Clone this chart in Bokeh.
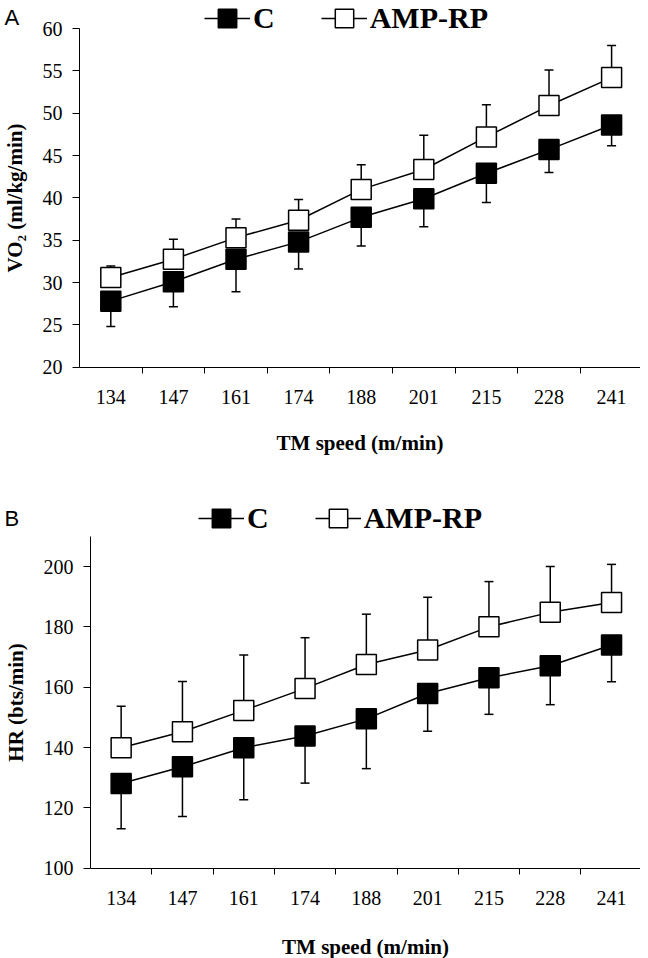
from bokeh.plotting import figure
from bokeh.models import Range1d, FixedTicker, Legend, LegendItem, Label
from bokeh.layouts import column
from bokeh.embed import file_html
from bokeh.resources import INLINE

# ---------------- data ----------------
speeds = ["134", "147", "161", "174", "188", "201", "215", "228", "241"]

vo2_c = [27.8, 30.1, 32.75, 34.8, 37.7, 39.9, 42.9, 45.7, 48.6]
vo2_c_low = [24.8, 27.15, 28.9, 31.6, 34.3, 36.6, 39.45, 43.0, 46.15]
vo2_amp = [30.6, 32.75, 35.3, 37.35, 41.0, 43.35, 47.2, 50.9, 54.2]
vo2_amp_high = [31.95, 35.1, 37.5, 39.8, 43.9, 47.4, 51.0, 55.1, 58.0]

hr_c = [128.1, 133.6, 139.9, 143.8, 149.5, 157.9, 163.1, 167.1, 174.0]
hr_c_low = [113.1, 117.1, 122.7, 128.2, 133.0, 145.4, 151.0, 154.2, 161.8]
hr_amp = [139.9, 145.2, 152.3, 159.6, 167.5, 172.3, 180.0, 184.8, 188.1]
hr_amp_high = [153.7, 161.9, 170.7, 176.4, 184.2, 189.8, 195.0, 200.0, 200.7]

vo2_ticks = [20, 25, 30, 35, 40, 45, 50, 55, 60]
hr_ticks = [100, 120, 140, 160, 180, 200]

SERIF = "Liberation Serif"
SANS = "Liberation Sans"
W = 640


def make_panel(c, c_low, amp, amp_high, ybounds, yticks, ylabel, letter,
               height, axis_x, cat_w, y_at_top, px_per_unit, leg_x, leg_cy, letter_cy,
               title_standoff):
    n = len(speeds)
    xs = [i + 0.5 for i in range(n)]
    x0 = -axis_x / cat_w
    x1 = (W - axis_x) / cat_w
    y1 = ybounds[1] + y_at_top / px_per_unit
    y0 = y1 - height / px_per_unit
    p = figure(width=W, height=height, output_backend="svg", toolbar_location=None,
               x_range=Range1d(x0, x1), y_range=Range1d(y0, y1),
               min_border=0, min_border_left=0, min_border_right=0,
               min_border_top=0, min_border_bottom=0)
    p.outline_line_color = None
    p.xgrid.visible = False
    p.ygrid.visible = False
    p.background_fill_color = "white"

    # x axis: labels at category centres, ticks at category boundaries
    xa = p.xaxis[0]
    xa.fixed_location = ybounds[0]
    xa.bounds = (0, n)
    xa.ticker = FixedTicker(ticks=xs, minor_ticks=list(range(1, n)))
    xa.major_label_overrides = {x: s for x, s in zip(xs, speeds)}
    xa.major_tick_line_color = None
    xa.major_tick_in = 0
    xa.major_tick_out = 6
    xa.minor_tick_in = 0
    xa.minor_tick_out = 6
    xa.minor_tick_line_color = "black"
    xa.axis_line_color = "black"
    xa.major_label_text_font = SERIF
    xa.major_label_text_font_size = "20px"
    xa.major_label_text_color = "black"
    xa.major_label_standoff = 17
    xa.axis_label = "TM speed (m/min)"
    xa.axis_label_text_font = SERIF
    xa.axis_label_text_font_style = "bold"
    xa.axis_label_text_font_size = "21px"
    xa.axis_label_text_color = "black"
    xa.axis_label_standoff = title_standoff

    ya = p.yaxis[0]
    ya.fixed_location = 0
    ya.bounds = ybounds
    ya.ticker = FixedTicker(ticks=yticks)
    ya.major_tick_in = 0
    ya.major_tick_out = 7
    ya.minor_tick_line_color = None
    ya.axis_line_color = "black"
    ya.major_label_text_font = SERIF
    ya.major_label_text_font_size = "20px"
    ya.major_label_text_color = "black"
    ya.major_label_standoff = 10
    ya.axis_label = ylabel
    ya.axis_label_text_font = SERIF
    ya.axis_label_text_font_style = "bold"
    ya.axis_label_text_font_size = "21px"
    ya.axis_label_text_color = "black"
    ya.axis_label_standoff = 13

    # one-sided error bars
    p.segment(xs, c, xs, c_low, line_color="black", line_width=1.5)
    p.scatter(xs, c_low, marker="dash", size=9, line_color="black", line_width=1.5)
    p.segment(xs, amp, xs, amp_high, line_color="black", line_width=1.5)
    p.scatter(xs, amp_high, marker="dash", size=9, line_color="black", line_width=1.5)

    lc = p.line(xs, c, line_color="black", line_width=1.5)
    la = p.line(xs, amp, line_color="black", line_width=1.5)
    sc = p.scatter(xs, c, marker="square", size=20, fill_color="black",
                   line_color="black", line_width=1.5)
    sa = p.scatter(xs, amp, marker="square", size=20, fill_color="white",
                   line_color="black", line_width=1.5)

    gh = 48
    leg = Legend(items=[LegendItem(label="C", renderers=[lc, sc]),
                        LegendItem(label="AMP-RP", renderers=[la, sa])],
                 orientation="horizontal",
                 location=(leg_x, height - leg_cy - gh / 2),
                 glyph_width=46, glyph_height=gh,
                 label_standoff=3, spacing=46,
                 padding=0, margin=0,
                 border_line_color=None, background_fill_alpha=0,
                 label_text_font=SERIF, label_text_font_style="bold",
                 label_text_font_size="30px", label_text_color="black")
    p.add_layout(leg)

    p.add_layout(Label(x=4, y=height - letter_cy, x_units="screen", y_units="screen",
                       text=letter, text_font=SANS, text_font_size="22px",
                       text_baseline="middle", text_color="black"))
    return p


p1 = make_panel(vo2_c, vo2_c_low, vo2_amp, vo2_amp_high, (20, 60), vo2_ticks,
                "VO\u2082 (ml/kg/min)", "A", height=465, axis_x=79, cat_w=62.6,
                y_at_top=28, px_per_unit=8.4675, leg_x=204, leg_cy=18, letter_cy=17,
                title_standoff=23)
p2 = make_panel(hr_c, hr_c_low, hr_amp, hr_amp_high, (100, 210), hr_ticks,
                "HR (bts/min)", "B", height=493, axis_x=90, cat_w=61.3,
                y_at_top=101 - 10 * 3.017, px_per_unit=3.017, leg_x=198, leg_cy=53,
                letter_cy=53, title_standoff=26)

layout = column(p1, p2, spacing=0)
open("out.html", "w").write(file_html(layout, INLINE))
